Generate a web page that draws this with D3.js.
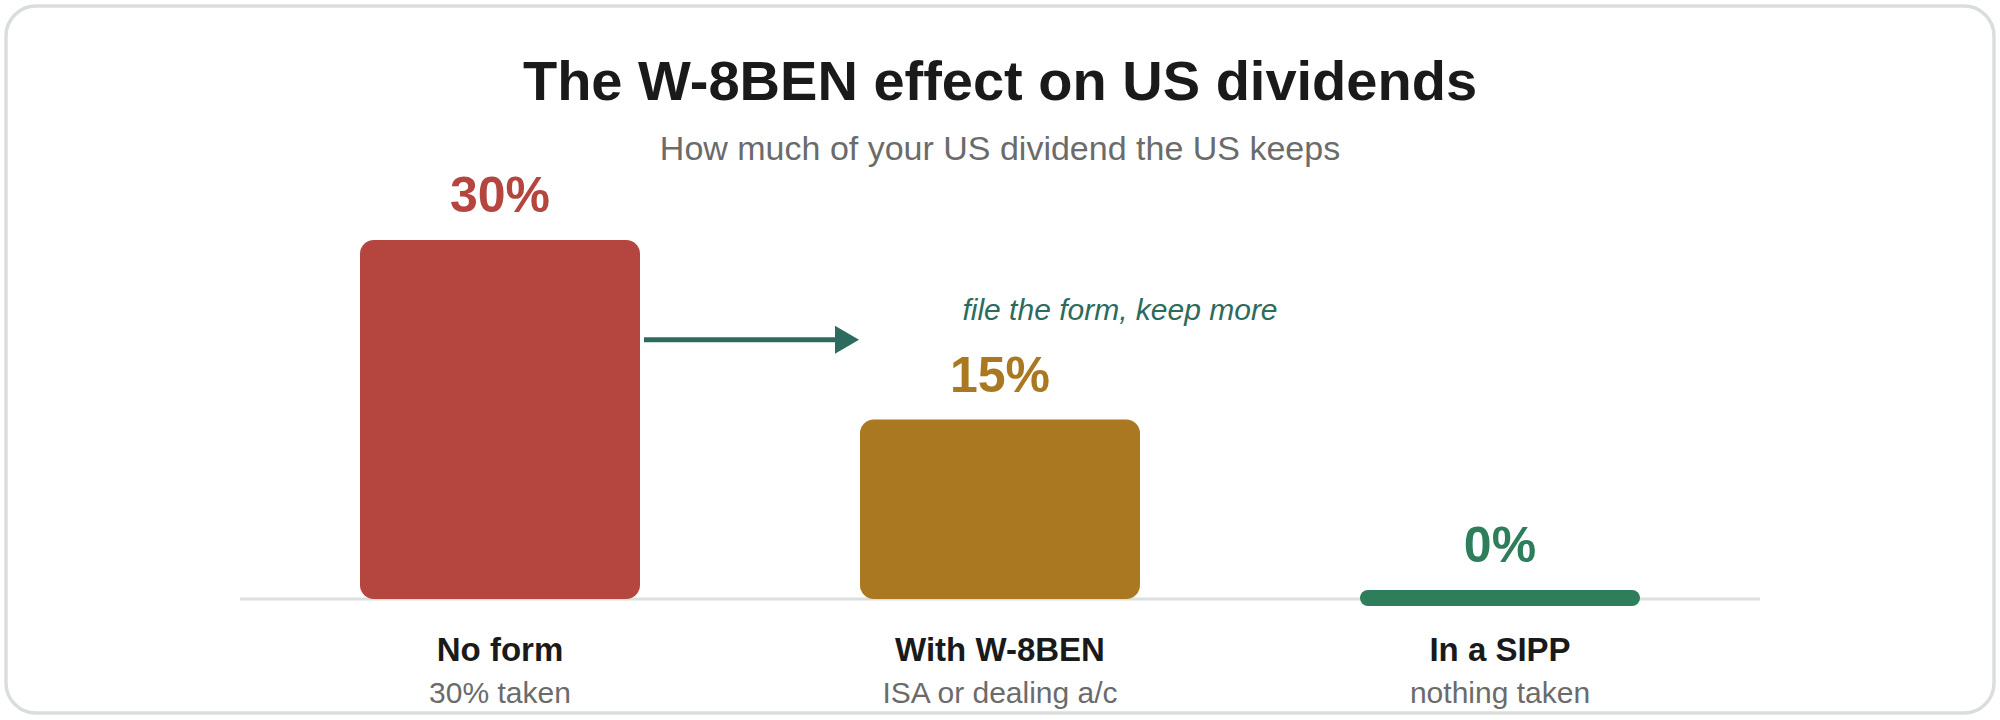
<!DOCTYPE html>
<html>
<head>
<meta charset="utf-8">
<script src="https://cdn.jsdelivr.net/npm/d3@7"></script>
<style>
  html, body { margin: 0; padding: 0; background: #fff; }
  svg { display: block; font-family: "Liberation Sans", Arial, sans-serif; }
</style>
</head>
<body>
<script>
'use strict';
// chart values
var categories = ["No form", "With W-8BEN", "In a SIPP"];
var subLabels = ["30% taken", "ISA or dealing a/c", "nothing taken"];
var withheld = [30, 15, 0];
var valueLabels = ["30%", "15%", "0%"];
var barColors = ["#b4463f", "#a97820", "#2e7d5b"];
var annotation = "file the form, keep more";

var width = 2000, height = 720;

var svg = d3.select("body").append("svg")
    .attr("width", width)
    .attr("height", height);

// card frame
svg.append("rect")
    .attr("x", 6).attr("y", 6)
    .attr("width", width - 12).attr("height", height - 13)
    .attr("rx", 30)
    .attr("fill", "#fff")
    .attr("stroke", "#d9dedd")
    .attr("stroke-width", 3.5);

svg.append("text")
    .attr("x", width / 2).attr("y", 100)
    .attr("text-anchor", "middle")
    .attr("font-size", 56).attr("font-weight", "bold")
    .attr("fill", "#1a1a1a")
    .text("The W-8BEN effect on US dividends");

svg.append("text")
    .attr("x", width / 2).attr("y", 160)
    .attr("text-anchor", "middle")
    .attr("font-size", 34)
    .attr("fill", "#6b6b6b")
    .text("How much of your US dividend the US keeps");

var x = d3.scaleBand()
    .domain(categories)
    .range([250, 1750])
    .paddingInner(0.44)
    .paddingOuter(0.22);

var y = d3.scaleLinear()
    .domain([0, 30])
    .range([599, 240]);

var data = categories.map(function(c, i) {
    return { cat: c, sub: subLabels[i], v: withheld[i], label: valueLabels[i], color: barColors[i] };
});

// baseline
svg.append("line")
    .attr("x1", 240).attr("x2", 1760)
    .attr("y1", y(0)).attr("y2", y(0))
    .attr("stroke", "#dcdfde")
    .attr("stroke-width", 3);

var minH = 16;
function barTop(d) {
    var h = y(0) - y(d.v);
    return h < minH ? y(0) - minH / 2 - 1 : y(d.v);
}

svg.append("g").selectAll("rect")
    .data(data)
    .enter().append("rect")
        .attr("x", d => x(d.cat))
        .attr("y", barTop)
        .attr("width", x.bandwidth())
        .attr("height", d => Math.max(y(0) - y(d.v), minH))
        .attr("rx", d => (y(0) - y(d.v)) < minH ? minH / 2 : 14)
        .attr("fill", d => d.color);

svg.append("g").selectAll("text")
    .data(data)
    .enter().append("text")
        .attr("x", d => x(d.cat) + x.bandwidth() / 2)
        .attr("y", d => barTop(d) - 28)
        .attr("text-anchor", "middle")
        .attr("font-size", 50).attr("font-weight", "bold")
        .attr("fill", d => d.color)
        .text(d => d.label);

var catG = svg.append("g").selectAll("g")
    .data(data)
    .enter().append("g")
        .attr("transform", d => "translate(" + (x(d.cat) + x.bandwidth() / 2) + ",0)");
catG.append("text")
    .attr("y", 661)
    .attr("text-anchor", "middle")
    .attr("font-size", 33).attr("font-weight", "bold")
    .attr("fill", "#1a1a1a")
    .text(d => d.cat);
catG.append("text")
    .attr("y", 703)
    .attr("text-anchor", "middle")
    .attr("font-size", 30)
    .attr("fill", "#6b6b6b")
    .text(d => d.sub);

// arrow between first two bars
var ax1 = x(categories[0]) + x.bandwidth() + 4,
    ax2 = x(categories[1]) - 1,
    ay = (y(withheld[0]) + y(withheld[1])) / 2 + 10;
svg.append("line")
    .attr("x1", ax1).attr("x2", ax2 - 22)
    .attr("y1", ay).attr("y2", ay)
    .attr("stroke", "#2d6b5e")
    .attr("stroke-width", 5);
svg.append("path")
    .attr("d", d3.line()([[ax2 - 24, ay - 14], [ax2, ay], [ax2 - 24, ay + 14]]) + "Z")
    .attr("fill", "#2d6b5e");

svg.append("text")
    .attr("x", x(categories[1]) + x.bandwidth() / 2 + 120)
    .attr("y", ay - 20)
    .attr("text-anchor", "middle")
    .attr("font-size", 30).attr("font-style", "italic")
    .attr("fill", "#2d6b5e")
    .text(annotation);
</script>
</body>
</html>
